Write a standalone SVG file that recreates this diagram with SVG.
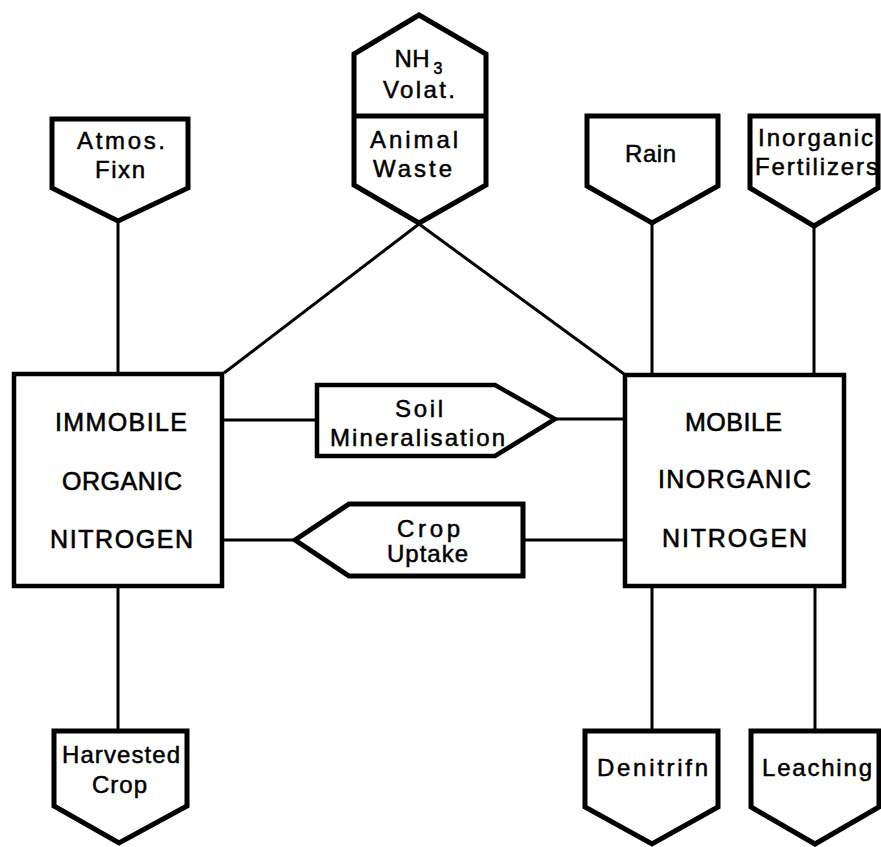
<svg xmlns="http://www.w3.org/2000/svg" width="881" height="847" viewBox="0 0 881 847">
<style>
.n{fill:#fff;stroke:#000;stroke-width:5;stroke-linejoin:miter}
.b{fill:#fff;stroke:#000;stroke-width:4.5}
.c{fill:none;stroke:#000;stroke-width:3}
text{font-family:"Liberation Sans",Arial,sans-serif;fill:#000;stroke:#000;stroke-width:0.5;text-anchor:middle;font-size:24px}
.big{font-size:25px;stroke-width:0.6}
</style>
<rect width="881" height="847" fill="#fff"/>
<g id="connectors">
<line class="c" x1="118" y1="221" x2="118" y2="374"/>
<line class="c" x1="652" y1="223" x2="652" y2="375"/>
<line class="c" x1="814" y1="226" x2="814" y2="375"/>
<line class="c" x1="419" y1="224" x2="224" y2="373"/>
<line class="c" x1="419" y1="224" x2="624" y2="374"/>
<line class="c" x1="224" y1="420" x2="317" y2="420"/>
<line class="c" x1="555" y1="419" x2="624" y2="419"/>
<line class="c" x1="224" y1="540" x2="295" y2="540"/>
<line class="c" x1="523" y1="540" x2="624" y2="540"/>
<line class="c" x1="118" y1="588" x2="118" y2="731"/>
<line class="c" x1="652" y1="588" x2="652" y2="731"/>
<line class="c" x1="815" y1="588" x2="815" y2="731"/>
</g>
<g id="atmos">
<polygon class="n" points="52,119 188,119 188,188 118,221 52,188"/>
<text x="121" y="149" textLength="88" lengthAdjust="spacing">Atmos.</text>
<text x="120" y="178" textLength="50" lengthAdjust="spacing">Fixn</text>
</g>
<g id="animal">
<polygon class="n" points="419,15 486,54 486,185 419,223 354,185 354,54"/>
<line x1="354" y1="116" x2="486" y2="116" stroke="#000" stroke-width="5"/>
<text x="412" y="67" textLength="35" lengthAdjust="spacing">NH</text>
<text x="438" y="74" style="font-size:16px">3</text>
<text x="419" y="98" textLength="72" lengthAdjust="spacing">Volat.</text>
<text x="414" y="148" textLength="88" lengthAdjust="spacing">Animal</text>
<text x="412.5" y="177" textLength="79" lengthAdjust="spacing">Waste</text>
</g>
<g id="rain">
<polygon class="n" points="587,116 718,116 718,186 652,223 587,186"/>
<text x="650.5" y="162" textLength="51" lengthAdjust="spacing">Rain</text>
</g>
<g id="fert">
<polygon class="n" points="750,116 878,116 878,188 814,226 750,188"/>
<text x="815.5" y="146" textLength="115" lengthAdjust="spacing">Inorganic</text>
<text x="816.5" y="175" textLength="123" lengthAdjust="spacing">Fertilizers</text>
</g>
<g id="immobile">
<rect class="b" x="14" y="374" width="208" height="212"/>
<text class="big" x="121" y="431" textLength="132" lengthAdjust="spacing">IMMOBILE</text>
<text class="big" x="122" y="490" textLength="120" lengthAdjust="spacing">ORGANIC</text>
<text class="big" x="121.5" y="548" textLength="143" lengthAdjust="spacing">NITROGEN</text>
</g>
<g id="mobile">
<rect class="b" x="625" y="375" width="219" height="211"/>
<text class="big" x="733.5" y="431" textLength="97" lengthAdjust="spacing">MOBILE</text>
<text class="big" x="734.5" y="488" textLength="153" lengthAdjust="spacing">INORGANIC</text>
<text class="big" x="734.5" y="547" textLength="145" lengthAdjust="spacing">NITROGEN</text>
</g>
<g id="soil">
<polygon class="b" points="317,385 495,385 555,419 495,456 317,456"/>
<text x="419" y="417" textLength="48" lengthAdjust="spacing">Soil</text>
<text x="417.5" y="446" textLength="175" lengthAdjust="spacing">Mineralisation</text>
</g>
<g id="uptake">
<polygon class="n" points="295,540 349,504 523,504 523,576 349,576"/>
<text x="428.5" y="537" textLength="63" lengthAdjust="spacing">Crop</text>
<text x="427.5" y="562" textLength="81" lengthAdjust="spacing">Uptake</text>
</g>
<g id="harvested">
<polygon class="n" points="54,731 187,731 187,806 119,843 54,806"/>
<text x="121" y="763" textLength="118" lengthAdjust="spacing">Harvested</text>
<text x="119.5" y="793" textLength="55" lengthAdjust="spacing">Crop</text>
</g>
<g id="denitrifn">
<polygon class="n" points="585,731 718,731 718,807 652,844 585,807"/>
<text x="652.5" y="776" textLength="111" lengthAdjust="spacing">Denitrifn</text>
</g>
<g id="leaching">
<polygon class="n" points="751,731 879,731 879,807 815,844 751,807"/>
<text x="817" y="776" textLength="110" lengthAdjust="spacing">Leaching</text>
</g>
</svg>
